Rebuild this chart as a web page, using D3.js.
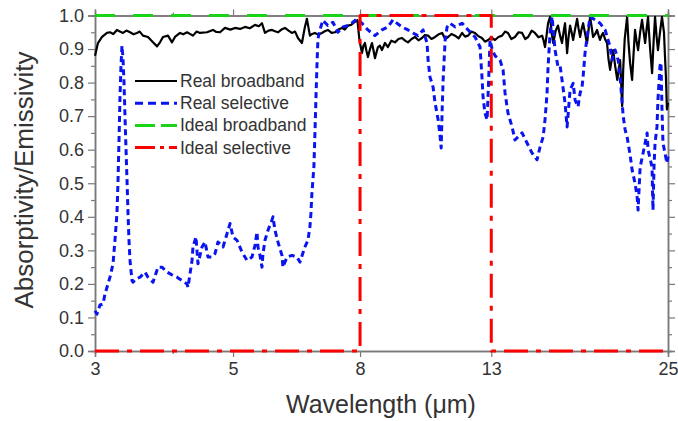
<!DOCTYPE html>
<html>
<head>
<meta charset="utf-8">
<script src="https://cdn.jsdelivr.net/npm/d3@7"></script>
<style>
  html, body { margin: 0; padding: 0; background: #fff; }
  svg { display: block; font-family: "Liberation Sans", Arial, sans-serif; }
</style>
</head>
<body>
<svg id="chart" width="678" height="421"></svg>
<script>
// Wavelength (µm) / absorptivity pairs for the measured spectra
const realBroadband = [
  [3.0,0.88],[3.033,0.918],[3.079,0.936],[3.136,0.948],[3.171,0.95],[3.21,0.945],[3.254,0.957],[3.29,0.952],
  [3.327,0.948],[3.37,0.955],[3.415,0.95],[3.46,0.944],[3.504,0.948],[3.54,0.952],[3.583,0.94],[3.65,0.936],
  [3.718,0.92],[3.774,0.908],[3.816,0.92],[3.858,0.936],[3.93,0.94],[3.989,0.92],[4.033,0.936],[4.109,0.948],
  [4.16,0.944],[4.217,0.95],[4.311,0.94],[4.37,0.952],[4.424,0.948],[4.54,0.95],[4.642,0.957],[4.7,0.951],
  [4.764,0.95],[4.853,0.963],[4.95,0.958],[5.036,0.963],[5.13,0.96],[5.226,0.966],[5.32,0.962],[5.423,0.972],
  [5.5,0.968],[5.565,0.977],[5.627,0.948],[5.7,0.955],[5.775,0.957],[5.84,0.953],[5.904,0.95],[5.98,0.958],
  [6.059,0.963],[6.14,0.955],[6.217,0.948],[6.29,0.952],[6.357,0.933],[6.452,0.918],[6.523,0.966],[6.572,0.99],
  [6.645,0.94],[6.7,0.945],[6.769,0.948],[6.85,0.943],[6.947,0.948],[7.02,0.953],[7.102,0.957],[7.2,0.948],
  [7.29,0.95],[7.38,0.958],[7.481,0.963],[7.56,0.958],[7.649,0.97],[7.74,0.972],[7.835,0.98],[7.922,0.986],
  [7.981,0.927],[8.056,0.888],[8.1,0.91],[8.146,0.918],[8.19,0.895],[8.237,0.876],[8.3,0.9],[8.36,0.918],
  [8.41,0.895],[8.453,0.873],[8.5,0.89],[8.548,0.906],[8.61,0.91],[8.675,0.897],[8.772,0.918],[8.869,0.906],
  [8.98,0.925],[9.103,0.92],[9.22,0.93],[9.341,0.933],[9.45,0.925],[9.551,0.92],[9.68,0.93],[9.802,0.936],
  [9.93,0.926],[10.06,0.933],[10.17,0.942],[10.29,0.94],[10.42,0.93],[10.56,0.936],[10.7,0.944],[10.84,0.948],
  [10.96,0.93],[11.08,0.936],[11.22,0.945],[11.37,0.94],[11.52,0.932],[11.67,0.948],[11.8,0.937],[11.93,0.94],
  [12.08,0.952],[12.24,0.948],[12.4,0.938],[12.56,0.933],[12.7,0.922],[12.85,0.927],[13.0,0.935],[13.18,0.927],
  [13.35,0.936],[13.53,0.94],[13.68,0.952],[13.83,0.948],[14.0,0.93],[14.19,0.936],[14.38,0.95],[14.57,0.948],
  [14.74,0.93],[14.9,0.936],[15.1,0.955],[15.28,0.948],[15.48,0.935],[15.69,0.94],[15.78,0.925],[15.86,0.906],
  [15.95,0.94],[16.04,0.977],[16.16,0.996],[16.25,0.95],[16.35,0.918],[16.5,0.955],[16.64,0.97],[16.77,0.94],
  [16.89,0.918],[17.0,0.955],[17.08,0.977],[17.15,0.93],[17.21,0.888],[17.3,0.935],[17.40,0.97],[17.5,0.95],
  [17.60,0.927],[17.73,0.96],[17.86,0.99],[17.96,0.96],[18.06,0.936],[18.16,0.96],[18.26,0.977],[18.4,0.945],
  [18.53,0.918],[18.64,0.96],[18.74,0.996],[18.85,0.965],[18.95,0.936],[19.1,0.945],[19.23,0.957],[19.34,0.94],
  [19.44,0.927],[19.55,0.94],[19.66,0.948],[19.8,0.93],[19.95,0.918],[20.06,0.87],[20.18,0.838],[20.3,0.87],
  [20.41,0.897],[20.56,0.85],[20.72,0.808],[20.84,0.84],[20.94,0.867],[21.02,0.8],[21.10,0.73],[21.18,0.838],
  [21.3,0.93],[21.49,0.996],[21.6,0.92],[21.73,0.858],[21.89,0.808],[22.0,0.88],[22.13,0.957],[22.25,0.925],
  [22.38,0.897],[22.55,0.95],[22.71,0.987],[22.85,0.95],[22.97,0.918],[23.1,0.96],[23.22,0.996],[23.4,0.9],
  [23.57,0.828],[23.7,0.92],[23.83,0.996],[23.96,0.94],[24.09,0.897],[24.27,0.95],[24.45,0.996],[24.55,0.97],
  [24.63,0.95],[24.72,0.88],[24.81,0.817],[24.90,0.72],[25.0,0.74]
];

const realSelective = [
  [3.0,0.12],[3.022,0.11],[3.056,0.137],[3.09,0.14],[3.113,0.17],[3.148,0.20],[3.171,0.22],[3.207,0.26],
  [3.23,0.33],[3.254,0.41],[3.266,0.50],[3.278,0.62],[3.29,0.75],[3.303,0.85],[3.315,0.91],[3.328,0.87],
  [3.34,0.80],[3.352,0.70],[3.365,0.60],[3.377,0.51],[3.39,0.41],[3.402,0.33],[3.415,0.27],[3.44,0.21],
  [3.453,0.205],[3.491,0.215],[3.544,0.22],[3.61,0.235],[3.65,0.22],[3.718,0.205],[3.788,0.25],[3.844,0.25],
  [3.916,0.235],[3.989,0.227],[4.064,0.22],[4.139,0.21],[4.217,0.20],[4.232,0.19],[4.264,0.23],[4.296,0.27],
  [4.311,0.31],[4.359,0.34],[4.375,0.30],[4.392,0.26],[4.457,0.31],[4.507,0.325],[4.557,0.28],[4.625,0.28],
  [4.677,0.29],[4.729,0.325],[4.818,0.31],[4.89,0.35],[4.945,0.38],[4.999,0.34],[5.074,0.33],[5.168,0.295],
  [5.265,0.27],[5.363,0.28],[5.423,0.315],[5.463,0.355],[5.483,0.31],[5.524,0.285],[5.565,0.25],[5.586,0.29],
  [5.627,0.33],[5.69,0.36],[5.775,0.39],[5.796,0.40],[5.839,0.36],[5.904,0.325],[5.992,0.285],[6.014,0.25],
  [6.104,0.28],[6.217,0.285],[6.333,0.28],[6.404,0.265],[6.523,0.31],[6.596,0.33],[6.645,0.37],[6.67,0.41],
  [6.694,0.47],[6.744,0.55],[6.77,0.65],[6.794,0.75],[6.82,0.85],[6.845,0.93],[6.895,0.957],[6.972,0.986],
  [7.102,0.97],[7.235,0.98],[7.37,0.95],[7.508,0.966],[7.649,0.97],[7.792,0.98],[7.908,0.99],[8.056,0.977],
  [8.237,0.957],[8.453,0.94],[8.675,0.957],[8.869,0.966],[9.035,0.987],[9.17,0.977],[9.341,0.966],[9.551,0.957],
  [9.73,0.948],[9.911,0.94],[10.10,0.957],[10.25,0.918],[10.29,0.867],[10.36,0.817],[10.48,0.787],[10.56,0.739],
  [10.68,0.689],[10.76,0.638],[10.80,0.605],[10.84,0.72],[10.88,0.81],[10.96,0.927],[11.04,0.966],[11.16,0.977],
  [11.37,0.966],[11.67,0.977],[11.93,0.957],[12.24,0.936],[12.47,0.906],[12.56,0.817],[12.61,0.757],[12.70,0.709],
  [12.80,0.689],[12.87,0.80],[12.94,0.927],[13.04,0.9],[13.18,0.88],[13.43,0.867],[13.58,0.838],[13.68,0.769],
  [13.83,0.709],[14.04,0.668],[14.19,0.629],[14.57,0.65],[14.84,0.62],[15.12,0.59],[15.40,0.57],[15.57,0.608],
  [15.75,0.638],[15.86,0.689],[15.98,0.769],[16.04,0.847],[16.16,0.948],[16.28,0.996],[16.46,0.897],[16.64,0.847],
  [16.77,0.85],[16.89,0.808],[17.08,0.739],[17.21,0.668],[17.40,0.778],[17.60,0.798],[17.73,0.748],[17.92,0.728],
  [18.06,0.769],[18.19,0.787],[18.26,0.817],[18.39,0.888],[18.60,0.957],[18.74,0.996],[19.09,0.987],[19.44,0.977],
  [19.81,0.957],[20.18,0.906],[20.33,0.867],[20.56,0.897],[20.79,0.867],[20.94,0.817],[21.10,0.739],[21.18,0.70],
  [21.33,0.66],[21.49,0.638],[21.73,0.584],[21.89,0.54],[22.13,0.50],[22.30,0.46],[22.38,0.42],[22.55,0.548],
  [22.80,0.59],[23.14,0.65],[23.22,0.60],[23.57,0.548],[23.6,0.49],[23.65,0.42],[23.74,0.55],[23.83,0.62],
  [24.00,0.668],[24.09,0.75],[24.27,0.85],[24.36,0.86],[24.45,0.72],[24.54,0.62],[24.72,0.59],[24.90,0.56],
  [25.0,0.58]
];

// Idealised emitters
const idealBroadband = [[3, 1], [25, 1]];
const idealSelective = [[3, 0], [8, 0], [8, 1], [13, 1], [13, 0], [25, 0]];

// Axis ticks
const xTicks = [3, 5, 8, 13, 25];
const xMinorTicks = [4];
const yTicks = [0, 0.1, 0.2, 0.3, 0.4, 0.5, 0.6, 0.7, 0.8, 0.9, 1.0];
const yMinorTicks = [0.05, 0.15, 0.25, 0.35, 0.45, 0.55, 0.65, 0.75, 0.85, 0.95];

const legendLabels = ["Real broadband", "Real selective", "Ideal broadband", "Ideal selective"];

const svg = d3.select("#chart");
const M = { left: 95, right: 668, top: 15.5, bottom: 351 };

const x = d3.scaleLog().domain([3, 25]).range([M.left, M.right]);
const y = d3.scaleLinear().domain([0, 1]).range([M.bottom, M.top]);

const axisColor = "#7a7a7a";
const textColor = "#333";

// series styles
const styles = [
  { data: realBroadband, color: "#000", width: 2.2, dash: null, legendDash: null },
  { data: realSelective, color: "#0a14f0", width: 3, dash: "6,4", legendDash: "8,5" },
  { data: idealBroadband, color: "#19d419", width: 3, dash: "20,18", legendDash: "20,6" },
  { data: idealSelective, color: "#f00", width: 3, dash: "24,8,5,8", legendDash: "20,5,4,5" }
];

// axes (drawn first so the curves sit on top of the frame)
function styleAxis(g) {
  g.select(".domain").attr("stroke", axisColor).attr("stroke-width", 1.5);
  g.selectAll(".tick line").attr("stroke", axisColor).attr("stroke-width", 1.2);
  g.selectAll(".tick text").attr("fill", textColor).style("font-size", "18px")
    .style("font-family", "'Liberation Sans', Arial, sans-serif");
}

const fmtY = d3.format(".1f");

svg.append("g").attr("transform", `translate(0,${M.bottom})`)
  .call(d3.axisBottom(x).tickValues(xTicks).tickFormat(d3.format("d")).tickSize(6).tickPadding(5))
  .call(styleAxis);
svg.append("g").attr("transform", `translate(0,${M.bottom})`)
  .call(d3.axisBottom(x).tickValues(xMinorTicks).tickFormat("").tickSize(3))
  .call(styleAxis);

svg.append("g").attr("transform", `translate(0,${M.top})`)
  .call(d3.axisTop(x).tickValues(xTicks).tickFormat("").tickSize(6))
  .call(styleAxis);
svg.append("g").attr("transform", `translate(0,${M.top})`)
  .call(d3.axisTop(x).tickValues(xMinorTicks).tickFormat("").tickSize(3))
  .call(styleAxis);

svg.append("g").attr("transform", `translate(${M.left},0)`)
  .call(d3.axisLeft(y).tickValues(yTicks).tickFormat(fmtY).tickSize(7).tickPadding(4))
  .call(styleAxis);
svg.append("g").attr("transform", `translate(${M.left},0)`)
  .call(d3.axisLeft(y).tickValues(yMinorTicks).tickFormat("").tickSize(4))
  .call(styleAxis);

svg.append("g").attr("transform", `translate(${M.right},0)`)
  .call(d3.axisRight(y).tickValues(yTicks).tickFormat("").tickSize(7))
  .call(styleAxis);
svg.append("g").attr("transform", `translate(${M.right},0)`)
  .call(d3.axisRight(y).tickValues(yMinorTicks).tickFormat("").tickSize(4))
  .call(styleAxis);

// curves
const line = d3.line().x(d => x(d[0])).y(d => y(d[1]));
const plot = svg.append("g");
styles.forEach(s => {
  plot.append("path")
    .datum(s.data)
    .attr("d", line)
    .attr("fill", "none")
    .attr("stroke", s.color)
    .attr("stroke-width", s.width)
    .attr("stroke-linejoin", "round")
    .attr("stroke-dasharray", s.dash);
});

// axis titles
svg.append("text")
  .attr("x", 381)
  .attr("y", 413)
  .attr("text-anchor", "middle")
  .attr("fill", textColor)
  .style("font-size", "25px")
  .text("Wavelength (\u03bcm)");

svg.append("text")
  .attr("transform", "translate(33,180) rotate(-90)")
  .attr("text-anchor", "middle")
  .attr("fill", textColor)
  .style("font-size", "26px")
  .text("Absorptivity/Emissivity");

// legend
const legend = svg.append("g");
legendLabels.forEach((lab, i) => {
  const s = styles[i];
  const ly = 81 + i * 22.2;
  legend.append("line")
    .attr("x1", 135).attr("x2", 177).attr("y1", ly).attr("y2", ly)
    .attr("stroke", s.color).attr("stroke-width", s.width)
    .attr("stroke-dasharray", s.legendDash);
  legend.append("text")
    .attr("x", 180).attr("y", ly + 6)
    .attr("fill", textColor)
    .style("font-size", "17.5px")
    .text(lab);
});
</script>
</body>
</html>
